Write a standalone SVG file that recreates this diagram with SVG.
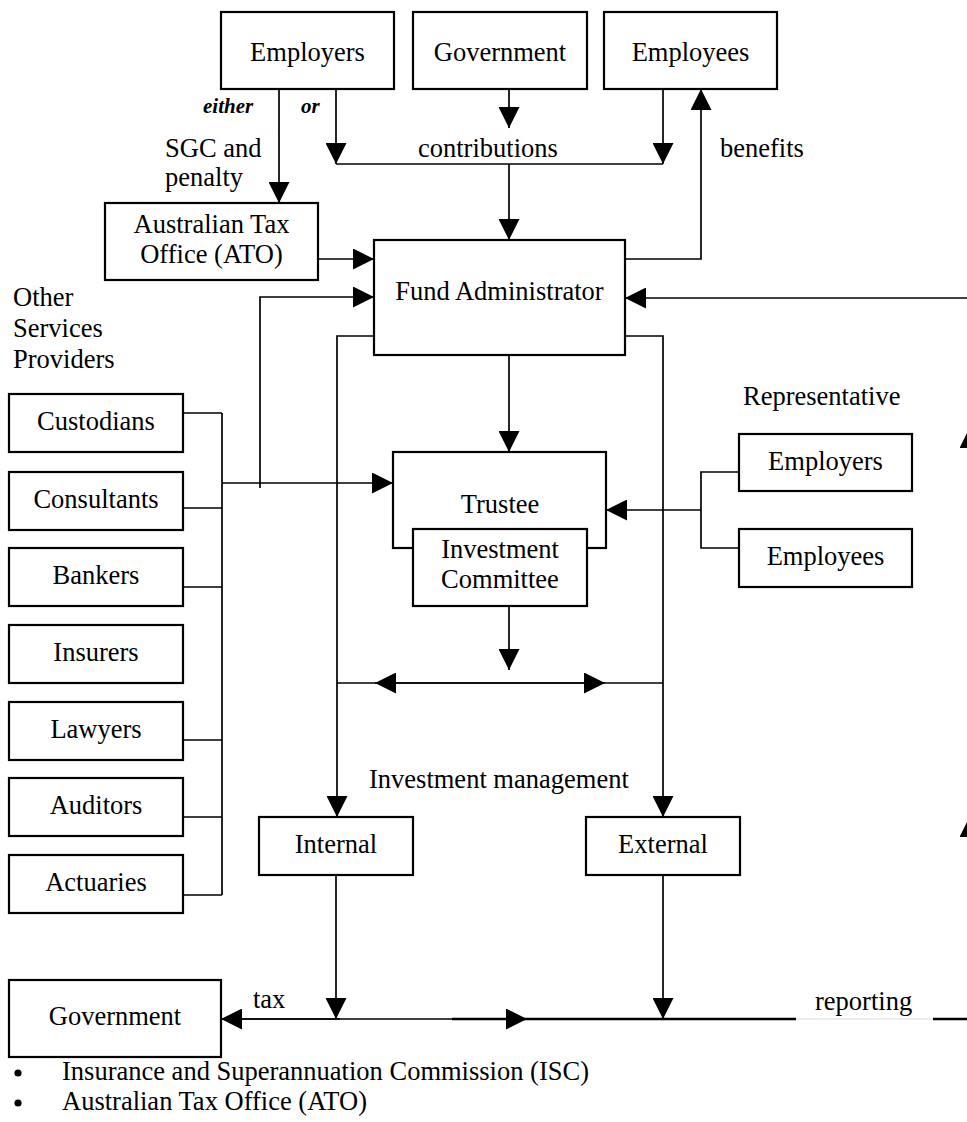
<svg xmlns="http://www.w3.org/2000/svg" width="967" height="1122" viewBox="0 0 967 1122">
<style>
text{font-family:"Liberation Serif","Times New Roman",serif;font-size:26.5px;fill:#000}
.c{text-anchor:middle}
.bi{font-weight:bold;font-style:italic;font-size:21px}
.box{fill:#fff;stroke:#000;stroke-width:2.2}
.ln{fill:none;stroke:#000;stroke-width:1.7}
.th{fill:none;stroke:#000;stroke-width:2.6}
.lt{fill:none;stroke:#e6e6e6;stroke-width:1.5}
.a{marker-end:url(#ah)}
</style>
<defs>
<marker id="ah" markerUnits="userSpaceOnUse" markerWidth="21" markerHeight="21" viewBox="0 0 20 20" refX="20" refY="10" orient="auto"><path d="M0,0 L20,10 L0,20 z" fill="#000"/></marker>
</defs>
<rect width="967" height="1122" fill="#fff"/>

<g id="connectors">
<path class="ln a" d="M279,89 V203"/>
<path class="ln a" d="M336,86 V164"/>
<path class="ln a" d="M509,89 V128"/>
<path class="ln a" d="M663,89 V164"/>
<path class="ln" d="M336,164 H663"/>
<path class="ln a" d="M509,164 V240"/>
<path class="ln a" d="M625,259 H701 V89"/>
<path class="ln a" d="M318,259 H374"/>
<path class="ln a" d="M260,488 V297 H374"/>
<path class="ln" d="M183,413 H222 M183,508 H222 M183,587 H222 M183,740 H222 M183,817 H222 M183,895 H222 M222,413 V895"/>
<path class="ln a" d="M222,483 H393"/>
<path class="ln a" d="M374,336 H337 V817"/>
<path class="ln a" d="M625,336 H663 V817"/>
<path class="ln a" d="M509,355 V452"/>
<path class="ln a" d="M509,596 V670"/>
<path class="ln" d="M337,683 H663"/>
<path class="ln a" d="M500,683 H375"/>
<path class="ln a" d="M500,683 H605"/>
<path class="ln" d="M739,472 H701 V548 H739"/>
<path class="ln a" d="M701,510 H606"/>
<path class="ln a" d="M970,298 H625"/>
<path class="ln" d="M970,298 V1019"/>
<path class="ln a" d="M970,470 V427"/>
<path class="ln a" d="M970,860 V816"/>
<path class="ln a" d="M336,875 V1019"/>
<path class="ln a" d="M663,875 V1019"/>
<path class="ln a" d="M340,1019 H221"/>
<path class="ln" d="M240,1019 H452"/>
<path class="th a" d="M452,1019 H527"/>
<path class="th" d="M527,1019 H796"/>
<path class="lt" d="M796,1019 H933"/>
<path class="th" d="M933,1019 H970"/>
</g>

<g id="employers-top"><rect class="box" x="221" y="12" width="173" height="77"/><text class="c" x="307.5" y="61">Employers</text></g>
<g id="government-top"><rect class="box" x="413" y="12" width="174" height="77"/><text class="c" x="500" y="61">Government</text></g>
<g id="employees-top"><rect class="box" x="604" y="12" width="173" height="77"/><text class="c" x="690.5" y="61">Employees</text></g>

<g id="labels-top">
<text class="bi" x="203" y="113">either</text>
<text class="bi" x="301" y="113">or</text>
<text x="165" y="157">SGC and</text>
<text x="165" y="186">penalty</text>
<text x="418" y="157">contributions</text>
<text x="720" y="157">benefits</text>
</g>

<g id="ato"><rect class="box" x="105" y="203" width="213" height="77"/><text class="c" x="211.5" y="233">Australian Tax</text><text class="c" x="211.5" y="263">Office (ATO)</text></g>
<g id="fund-administrator"><rect class="box" x="374" y="240" width="251" height="115"/><text class="c" x="499.5" y="300">Fund Administrator</text></g>

<g id="other-services-label"><text x="13" y="306">Other</text><text x="13" y="337">Services</text><text x="13" y="368">Providers</text></g>

<g id="custodians"><rect class="box" x="9" y="394" width="174" height="58"/><text class="c" x="96" y="430">Custodians</text></g>
<g id="consultants"><rect class="box" x="9" y="472" width="174" height="58"/><text class="c" x="96" y="508">Consultants</text></g>
<g id="bankers"><rect class="box" x="9" y="548" width="174" height="58"/><text class="c" x="96" y="584">Bankers</text></g>
<g id="insurers"><rect class="box" x="9" y="625" width="174" height="58"/><text class="c" x="96" y="661">Insurers</text></g>
<g id="lawyers"><rect class="box" x="9" y="702" width="174" height="58"/><text class="c" x="96" y="738">Lawyers</text></g>
<g id="auditors"><rect class="box" x="9" y="778" width="174" height="58"/><text class="c" x="96" y="814">Auditors</text></g>
<g id="actuaries"><rect class="box" x="9" y="855" width="174" height="58"/><text class="c" x="96" y="891">Actuaries</text></g>

<g id="trustee"><rect class="box" x="393" y="452" width="213" height="96"/><text class="c" x="500" y="513">Trustee</text></g>
<g id="investment-committee"><rect class="box" x="413" y="529" width="174" height="77"/><text class="c" x="500" y="558">Investment</text><text class="c" x="500" y="588">Committee</text></g>

<g id="representative-label"><text x="743" y="405">Representative</text></g>
<g id="rep-employers"><rect class="box" x="739" y="434" width="173" height="57"/><text class="c" x="825.5" y="470">Employers</text></g>
<g id="rep-employees"><rect class="box" x="739" y="529" width="173" height="58"/><text class="c" x="825.5" y="565">Employees</text></g>

<g id="investment-management-label"><text x="369" y="788">Investment management</text></g>
<g id="internal"><rect class="box" x="259" y="817" width="154" height="58"/><text class="c" x="336" y="853">Internal</text></g>
<g id="external"><rect class="box" x="586" y="817" width="154" height="58"/><text class="c" x="663" y="853">External</text></g>

<g id="government-bottom"><rect class="box" x="9" y="980" width="212" height="77"/><text class="c" x="115" y="1025">Government</text></g>
<g id="labels-bottom"><text x="253" y="1008">tax</text><text x="815" y="1010">reporting</text></g>

<g id="bullets">
<circle cx="18" cy="1073" r="3.6"/><text x="62" y="1080">Insurance and Superannuation Commission (ISC)</text>
<circle cx="18" cy="1103" r="3.6"/><text x="62" y="1110">Australian Tax Office (ATO)</text>
</g>
</svg>
